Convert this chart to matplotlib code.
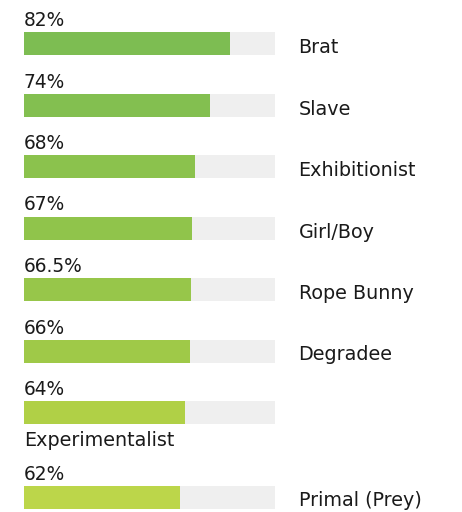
import matplotlib
matplotlib.use("Agg")
import matplotlib.pyplot as plt

categories = ["Brat", "Slave", "Exhibitionist", "Girl/Boy", "Rope Bunny",
              "Degradee", "Experimentalist", "Primal (Prey)"]
values = [82, 74, 68, 67, 66.5, 66, 64, 62]
value_labels = ["82%", "74%", "68%", "67%", "66.5%", "66%", "64%", "62%"]
label_below = [False, False, False, False, False, False, True, False]

colors = ["#7dbd52", "#83bf50", "#8bc24d", "#90c44b", "#97c64a",
          "#9fc948", "#b0d046", "#bcd64a"]
track_color = "#efefef"

plt.rcParams['font.family'] = ['DejaVu Sans']

fig = plt.figure(figsize=(4.62, 5.12), dpi=100)
ax = fig.add_axes([0, 0, 1, 1])
ax.set_axis_off()

px_per_pct = 2.51
left_px = 24
row_px = 61.5
first_center_px = 43.5
ax.set_xlim(-left_px / px_per_pct, (462 - left_px) / px_per_pct)
ax.set_ylim((512 - first_center_px) / row_px, -first_center_px / row_px)

bar_h = 23 / row_px
extra = 23.0 / row_px

ypos = []
y = 0.0
for i in range(len(categories)):
    if i > 0:
        y += 1.0
        if label_below[i - 1]:
            y += extra
    ypos.append(y)

ax.barh(ypos, [100] * len(values), height=bar_h, color=track_color, left=0)
ax.barh(ypos, values, height=bar_h, color=colors, left=0)

txt_color = "#1a1a1a"
for yi, v, vl, cat, below in zip(ypos, values, value_labels, categories, label_below):
    top = yi - bar_h / 2
    bot = yi + bar_h / 2
    ax.text(-0.1, top - 6 / row_px, vl, fontsize=13.4, color=txt_color,
            ha="left", va="baseline")
    if below:
        ax.text(-0.1, bot + 22 / row_px, cat, fontsize=13.8, color=txt_color,
                ha="left", va="baseline")
    else:
        ax.text(109.4, bot - 2 / row_px, cat, fontsize=13.8, color=txt_color,
                ha="left", va="baseline")

fig.savefig("out.png", dpi=100, facecolor="white")
